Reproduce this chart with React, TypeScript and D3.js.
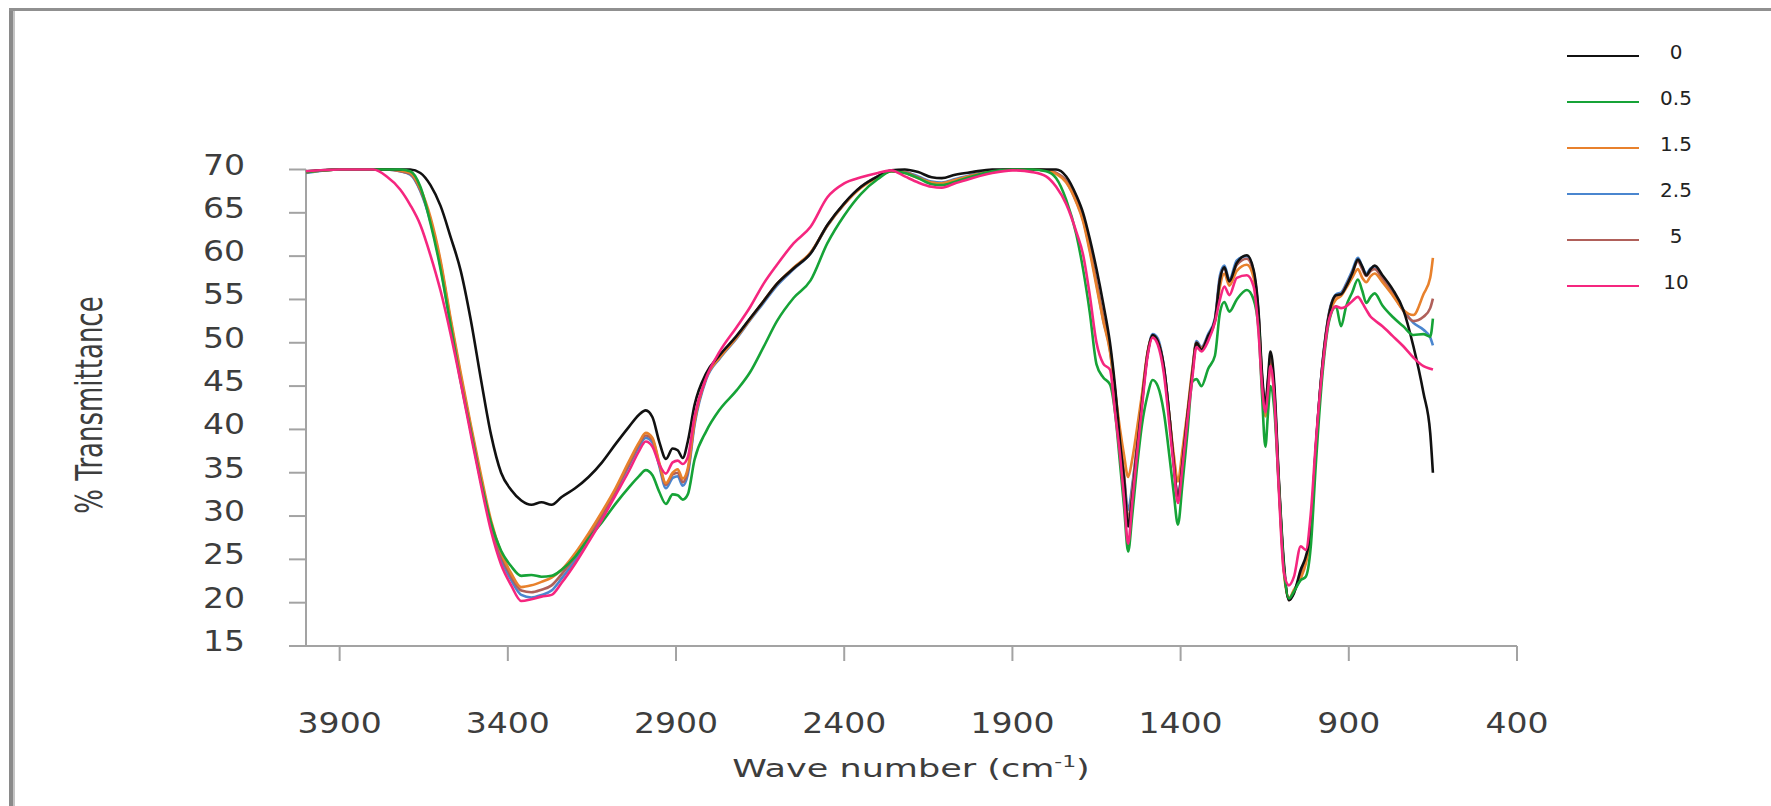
import React, { useEffect, useRef } from 'react';
import * as d3 from 'd3';

// wave numbers (cm-1) shared by every spectrum
const wavenumbers = [
  4000, 3900, 3800, 3760, 3720, 3690, 3660, 3630, 3600, 3570,
  3540, 3510, 3480, 3450, 3420, 3390, 3360, 3330, 3300, 3270,
  3240, 3200, 3160, 3120, 3080, 3040, 3010, 2990, 2970, 2950,
  2930, 2910, 2895, 2880, 2865, 2845, 2810, 2770, 2720, 2680,
  2640, 2600, 2550, 2500, 2450, 2400, 2350, 2300, 2260, 2220,
  2180, 2140, 2110, 2070, 2020, 1960, 1900, 1840, 1800, 1770,
  1740, 1710, 1690, 1670, 1650, 1630, 1610, 1595, 1580, 1568,
  1556, 1544, 1530, 1515, 1498, 1483, 1468, 1450, 1432, 1420,
  1408, 1395, 1380, 1365, 1353, 1338, 1318, 1298, 1283, 1270,
  1255, 1233, 1203, 1183, 1168, 1158, 1148, 1140, 1133, 1122,
  1108, 1093, 1078, 1063, 1043, 1028, 1013, 998, 978, 958,
  938, 923, 908, 890, 873, 860, 848, 835, 823, 800,
  770, 738, 708, 678, 658, 650,
];

// % transmittance for each concentration
const t0 = [
  69.8, 70, 70, 70, 70, 70, 69.6, 68.2, 65.8, 62.2,
  58.3, 52.6, 45.8, 39.4, 35, 33, 31.8, 31.3, 31.6, 31.3,
  32.2, 33.2, 34.5, 36.2, 38.3, 40.3, 41.7, 42.2, 41.4, 38.6,
  36.6, 37.8, 37.6, 36.7, 38.6, 42.8, 46.5, 48.6, 50.8, 52.8,
  54.8, 56.8, 58.6, 60.3, 63.6, 66.1, 68.0, 69.2, 69.9, 70,
  69.7, 69.1, 69.0, 69.4, 69.7, 70, 70, 70, 70, 70,
  69.2, 67, 65, 62, 58.5, 54.5, 50, 45, 38.5, 34.2,
  28.8, 32, 37.5, 43, 48.8, 50.9, 50.2, 47.3, 41, 36,
  31.9, 36, 41.5, 46.5, 50, 49.2, 50.8, 52.6, 57.3, 58.7,
  57.1, 59.2, 60.1, 58.4, 53.4, 46.5, 42.8, 46, 49, 45.5,
  34.2, 24.6, 20.3, 21.1, 23.8, 25.3, 28.4, 38, 47.6, 53.4,
  55.5, 55.6, 56.5, 58, 59.6, 58.8, 57.8, 58.5, 58.9, 57.8,
  56.2, 53.8, 49.6, 44.2, 39.6, 35,
];
const t05 = [
  69.7, 70, 70, 70, 70, 69.8, 68, 63.8, 58.5, 52,
  45.5, 39.8, 34, 29.2, 26, 24.2, 23.1, 23.2, 23, 23.1,
  23.8, 25.3, 27.4, 29.3, 31.4, 33.3, 34.6, 35.3, 34.7, 32.8,
  31.4, 32.5, 32.4, 31.9, 32.5, 36.5, 39.8, 42.3, 44.5, 46.6,
  49.5, 52.5, 55.2, 57.2, 61.5, 64.7, 67.2, 68.9, 69.8, 69.6,
  69, 68.3, 68.2, 68.6, 69.2, 69.8, 70, 70, 69.8, 69,
  66.5, 62.5, 58.5, 53.5, 47.5, 46, 45.2, 42, 36, 31,
  25.9, 30, 35.5, 40.5, 44, 45.7, 45, 42, 36.5, 32.5,
  29, 33.5, 39.5, 45.5, 45.8, 45, 47, 48.5, 53.5, 54.7,
  53.6, 55, 56.1, 55, 51.5, 44, 38, 42, 45, 42.5,
  33.5, 24, 20.5, 21.3, 22.6, 23, 26.5, 36, 46.5, 52.6,
  54.2, 51.9, 54.2, 55.8, 57.3, 56, 54.6, 55.3, 55.7, 54.3,
  53, 51.9, 50.9, 51, 50.7, 52.8,
];
const t15 = [
  69.7, 70, 70, 70, 69.9, 69.6, 67.8, 64.5, 59.5, 52.8,
  46.5, 40.5, 34.8, 29.5, 25.8, 23.4, 21.8, 22.0, 22.4, 22.9,
  23.8, 25.7, 28, 30.5, 33.2, 36.3, 38.5, 39.6, 39, 36.2,
  33.8, 35, 35.4, 34.3, 35.5, 41, 46, 48.3, 50.6, 52.7,
  54.8, 56.8, 58.7, 60.4, 63.5, 66, 67.9, 69.1, 69.8, 69.6,
  69, 68.5, 68.4, 68.8, 69.3, 69.8, 70, 70, 69.9, 69.5,
  68.5, 66.2, 64, 60.5, 56.5, 52.5, 49, 44.5, 40, 37,
  34.5, 36.5, 40, 44, 49, 50.8, 50.2, 47, 41, 37,
  34, 37.5, 42, 47, 50, 49.3, 50.6, 52.4, 56.5, 58,
  56.6, 58.3, 59, 57.5, 52.5, 45.5, 41.5, 44.5, 47.5, 44,
  33.5, 23.5, 20.5, 21.5, 22.8, 24.5, 28, 37.5, 47.3, 53.2,
  55, 55.4, 56.3, 57.5, 58.5, 57.5, 57, 57.7, 58, 57,
  55.5, 53.8, 53.2, 55.6, 57.5, 59.8,
];
const t25 = [
  69.6, 70, 70, 70, 69.8, 69.4, 67.5, 64, 58.8, 52,
  45.8, 39.8, 34, 28.8, 25, 22.6, 20.9, 20.6, 20.9, 21.4,
  22.8, 24.9, 27.4, 30, 32.8, 35.8, 38, 39, 38.5, 35.8,
  33.2, 34.4, 34.6, 33.5, 34.8, 40.5, 45.8, 48.2, 50.5, 52.6,
  54.6, 56.6, 58.5, 60.3, 63.5, 66, 68, 69.2, 69.8, 69.7,
  69.2, 68.6, 68.5, 68.9, 69.4, 69.8, 70, 70, 69.9, 69.6,
  68.6, 66.3, 64.2, 60.8, 56.8, 52.6, 49.2, 44, 38.5, 34.5,
  30.7, 33.5, 38, 43.5, 48.8, 51, 50.5, 47.3, 41, 36,
  32, 36, 41.5, 46.8, 50.2, 49.5, 51, 52.8, 57.8, 58.9,
  57.3, 59.5, 60, 58.2, 53, 46, 42.5, 45.5, 48.2, 44.5,
  33.8, 24, 20.4, 21.3, 23.3, 25, 28.3, 37.8, 47.7, 53.6,
  55.6, 55.8, 56.8, 58.3, 59.8, 58.8, 58, 58.6, 58.8, 57.6,
  55.9, 53.8, 52.3, 51.5, 50.6, 49.7,
];
const t5 = [
  69.7, 70, 70, 70, 69.8, 69.5, 67.6, 64.2, 59.2, 52.5,
  46.2, 40.2, 34.4, 29.2, 25.4, 23, 21.4, 21.2, 21.5, 22,
  23.3, 25.3, 27.7, 30.2, 33, 36, 38.3, 39.3, 38.8, 36,
  33.6, 34.8, 35, 33.9, 35.2, 40.8, 46, 48.4, 50.7, 52.8,
  54.8, 56.8, 58.6, 60.4, 63.6, 66, 68, 69.2, 69.8, 69.7,
  69.1, 68.5, 68.4, 68.8, 69.3, 69.8, 70, 70, 69.9, 69.6,
  68.7, 66.5, 64.4, 61, 57, 53, 49.5, 44.5, 39, 34.8,
  29.5, 33, 38, 43.5, 48.8, 50.8, 50.2, 47.2, 41, 36,
  32, 36, 41.5, 46.6, 50, 49.4, 50.8, 52.6, 57.4, 58.6,
  57, 59, 59.7, 58, 53, 46, 42.6, 45.6, 48.4, 44.8,
  34, 24.2, 20.3, 21.2, 23.2, 24.9, 28.2, 37.8, 47.6, 53.5,
  55.4, 55.6, 56.6, 58, 59.4, 58.5, 57.7, 58.3, 58.5, 57.4,
  55.7, 53.7, 52.5, 53, 54, 55.1,
];
const t10 = [
  69.8, 70, 70, 69.2, 67.7, 65.9, 63.6, 60.1, 56, 51,
  45.4, 39.4, 33.6, 28.3, 24.4, 22, 20.2, 20.4, 20.7, 20.9,
  22.3, 24.5, 27, 29.6, 32.4, 35.2, 37.5, 38.6, 38, 36,
  34.9, 36.2, 36.4, 36, 36.8, 41.5, 46, 49, 51.8, 54.1,
  56.8, 59, 61.5, 63.4, 66.8, 68.4, 69.1, 69.6, 69.9, 69.2,
  68.5, 68, 67.9, 68.4, 69, 69.6, 69.9, 69.7, 69.2, 68,
  66, 62.8, 60.2, 55.5, 50, 47.6, 46.9, 42, 37, 32,
  26.8, 31.5, 37, 42.5, 48.5, 50.6, 49.8, 46.5, 40, 35.5,
  31.5, 35.5, 41, 46, 49.5, 49, 50.2, 52.4, 55, 56.5,
  55.5, 57.5, 57.8, 56.5, 51, 45, 42, 44.5, 47.3, 44,
  33, 23.5, 22, 23, 26.5, 26.1, 30.3, 38.5, 47.2, 52.8,
  54.2, 54, 54.2, 54.8, 55.3, 54.6, 53.8, 53, 52.6, 51.9,
  50.8, 49.6, 48.3, 47.3, 47, 46.9,
];

const seriesLabels = ['0', '0.5', '1.5', '2.5', '5', '10'];
const seriesValues = [t0, t05, t15, t25, t5, t10];
const seriesColors = ['#111111', '#16a337', '#e8812c', '#4a86cf', '#b0605a', '#f5267f'];
// drawing order, back to front
const drawOrder = [3, 4, 2, 0, 1, 5];

const yTicks = [15, 20, 25, 30, 35, 40, 45, 50, 55, 60, 65, 70];
const xTicks = [3900, 3400, 2900, 2400, 1900, 1400, 900, 400];

const FONT = '"DejaVu Sans", sans-serif';

function FtirChart({ width = 1771, height = 806 }) {
  const ref = useRef<SVGSVGElement>(null);

  useEffect(() => {
    const svg = d3.select(ref.current);
    svg.selectAll('*').remove();

    const x = d3.scaleLinear().domain([4000, 400]).range([306, 1517]);
    const y = d3.scaleLinear().domain([15, 70]).range([646, 169.5]);
    const axisColor = '#a3a3a3';

    svg.append('rect').attr('width', width).attr('height', height).attr('fill', '#fff');

    // outer frame (left and top edges only)
    svg.append('rect').attr('x', 9).attr('y', 8).attr('width', 4).attr('height', height).attr('fill', '#8a8a8a');
    svg.append('rect').attr('x', 13).attr('y', 8).attr('width', 2).attr('height', height).attr('fill', '#c4c4c4');
    svg.append('rect').attr('x', 9).attr('y', 8).attr('width', width).attr('height', 3).attr('fill', '#909090');

    const g = svg.append('g');

    // y axis
    g.append('line')
      .attr('x1', x(4000)).attr('x2', x(4000))
      .attr('y1', y(70)).attr('y2', y(15))
      .attr('stroke', axisColor).attr('stroke-width', 2);
    g.selectAll('.ytick')
      .data(yTicks)
      .enter().append('line')
      .attr('x1', x(4000) - 17).attr('x2', x(4000))
      .attr('y1', d => y(d)).attr('y2', d => y(d))
      .attr('stroke', axisColor).attr('stroke-width', 2);
    g.selectAll('.ylabel')
      .data(yTicks)
      .enter().append('text')
      .attr('transform', d => `translate(245,${y(d) + 5}) scale(1.18,1)`)
      .attr('text-anchor', 'end')
      .attr('font-family', FONT)
      .attr('font-size', 28)
      .attr('fill', '#3d3d3d')
      .text(d => d);

    // x axis
    g.append('line')
      .attr('x1', x(4000) - 17).attr('x2', x(400))
      .attr('y1', y(15)).attr('y2', y(15))
      .attr('stroke', axisColor).attr('stroke-width', 2);
    g.selectAll('.xtick')
      .data(xTicks)
      .enter().append('line')
      .attr('x1', d => x(d)).attr('x2', d => x(d))
      .attr('y1', y(15)).attr('y2', y(15) + 15)
      .attr('stroke', axisColor).attr('stroke-width', 2);
    g.selectAll('.xlabel')
      .data(xTicks)
      .enter().append('text')
      .attr('transform', d => `translate(${x(d)},733) scale(1.18,1)`)
      .attr('text-anchor', 'middle')
      .attr('font-family', FONT)
      .attr('font-size', 28)
      .attr('fill', '#3d3d3d')
      .text(d => d);

    // axis titles
    const xt = g.append('text')
      .attr('transform', 'translate(911,777) scale(1.46,1)')
      .attr('text-anchor', 'middle')
      .attr('font-family', FONT)
      .attr('font-size', 24)
      .attr('fill', '#3d3d3d');
    xt.append('tspan').text('Wave number (cm');
    xt.append('tspan').attr('font-size', 15).attr('dy', -10).text('-1');
    xt.append('tspan').attr('dy', 10).text(')');

    g.append('text')
      .attr('transform', 'translate(102,405) rotate(-90) scale(1,1.45)')
      .attr('text-anchor', 'middle')
      .attr('font-family', FONT)
      .attr('font-size', 26)
      .attr('fill', '#3d3d3d')
      .text('% Transmittance');

    // spectra
    const line = d3.line<number>()
      .x((_, i) => x(wavenumbers[i]))
      .y(d => y(d))
      .curve(d3.curveMonotoneX);

    g.selectAll('.spectrum')
      .data(drawOrder)
      .enter().append('path')
      .attr('class', 'spectrum')
      .attr('d', k => line(seriesValues[k]))
      .attr('fill', 'none')
      .attr('stroke', k => seriesColors[k])
      .attr('stroke-width', 2.6)
      .attr('stroke-linejoin', 'round');

    // legend
    const legend = g.selectAll('.legend')
      .data(seriesLabels)
      .enter().append('g')
      .attr('class', 'legend')
      .attr('transform', (_, i) => `translate(0,${56 + i * 46})`);
    legend.append('line')
      .attr('x1', 1567).attr('x2', 1639)
      .attr('stroke', (_, i) => seriesColors[i])
      .attr('stroke-width', 2.2);
    legend.append('text')
      .attr('x', 1676).attr('y', 3)
      .attr('text-anchor', 'middle')
      .attr('font-family', FONT)
      .attr('font-size', 20)
      .attr('fill', '#222')
      .text(d => d);
  }, [width, height]);

  return (
    <svg
      ref={ref}
      width={width}
      height={height}
      style={{ position: 'absolute', left: 0, top: 0, display: 'block' }}
    />
  );
}

export default function App() {
  return <FtirChart />;
}
